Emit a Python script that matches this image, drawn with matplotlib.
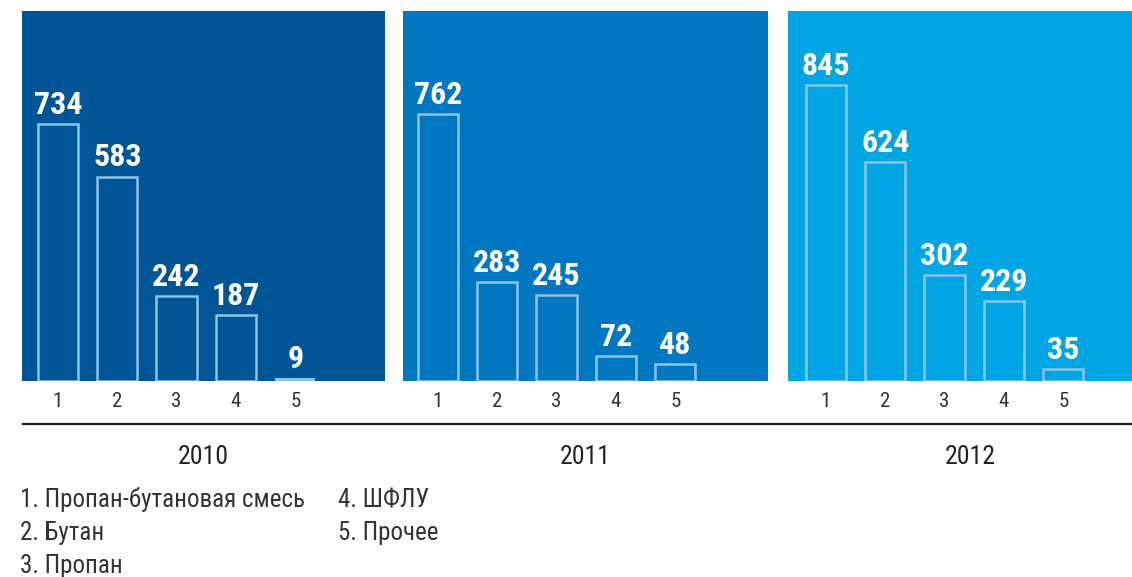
import matplotlib.pyplot as plt
from matplotlib import font_manager

years = ['2010', '2011', '2012']
cats = [1, 2, 3, 4, 5]
values = {
    '2010': [734, 583, 242, 187, 9],
    '2011': [762, 283, 245, 72, 48],
    '2012': [845, 624, 302, 229, 35],
}
legend_col1 = ['1. Пропан-бутановая смесь', '2. Бутан', '3. Пропан']
legend_col2 = ['4. ШФЛУ', '5. Прочее']

bg_colors = ['#005596', '#0077c0', '#00a5e3']
edge = '#8cc4ea'

names = {f.name for f in font_manager.fontManager.ttflist}


def pick(cands):
    for c in cands:
        if c in names:
            return c
    return 'DejaVu Sans'


narrow = pick(['Roboto Condensed', 'Archivo Narrow', 'PT Sans Narrow', 'Liberation Sans Narrow'])
narrow_bold = pick(['Roboto Condensed', 'Archivo Narrow', 'PT Sans Narrow', 'Oswald'])

W, H = 1132, 577
fig = plt.figure(figsize=(W / 100, H / 100), dpi=100)

# panel extents in pixels: left, right, first bar centre
panels = [(22, 385, 58), (403, 768, 438), (788, 1132, 826)]
pitch = 59.3
top, bottom = 11, 381
px_per_unit = 0.3505

for (l, r, c), yr, bg in zip(panels, years, bg_colors):
    ax = fig.add_axes([l / W, 1 - bottom / H, (r - l) / W, (bottom - top) / H])
    ax.set_facecolor(bg)
    ax.set_xlim(1 - (c - l) / pitch, 1 + (r - c) / pitch)
    ax.set_ylim(0, (bottom - top) / px_per_unit)
    vals = values[yr]
    for x, v in zip(cats, vals):
        if v < 20:
            ax.bar(x, v, width=0.68, color=edge, linewidth=0)
        else:
            ax.bar(x, v, width=0.68, color=bg, edgecolor=edge, linewidth=1.8)
        ax.text(x, v + 12, str(v), ha='center', va='bottom', color='white',
                fontsize=23, fontweight='bold', family=narrow_bold)
    ax.set_xticks(cats)
    ax.set_xticklabels([str(c_) for c_ in cats], fontsize=15, color='#333333', family=narrow)
    ax.tick_params(axis='x', length=0, pad=8)
    ax.set_yticks([])
    for s in ax.spines.values():
        s.set_visible(False)
    fig.text(((l + r) / 2 + (10 if yr == '2012' else 0)) / W, 1 - 457 / H, yr,
             ha='center', va='center', fontsize=18.5, color='#222222', family=narrow)

fig.add_artist(plt.Line2D([23 / W, 1], [1 - 424 / H, 1 - 424 / H], color='#222222', lw=1.6))

for i, t in enumerate(legend_col1):
    fig.text(20 / W, 1 - (500 + 33 * i) / H, t, ha='left', va='center',
             fontsize=18, color='#333333', family=narrow)
for i, t in enumerate(legend_col2):
    fig.text(338 / W, 1 - (500 + 33 * i) / H, t, ha='left', va='center',
             fontsize=18, color='#333333', family=narrow)

fig.savefig('out.png', dpi=100)
